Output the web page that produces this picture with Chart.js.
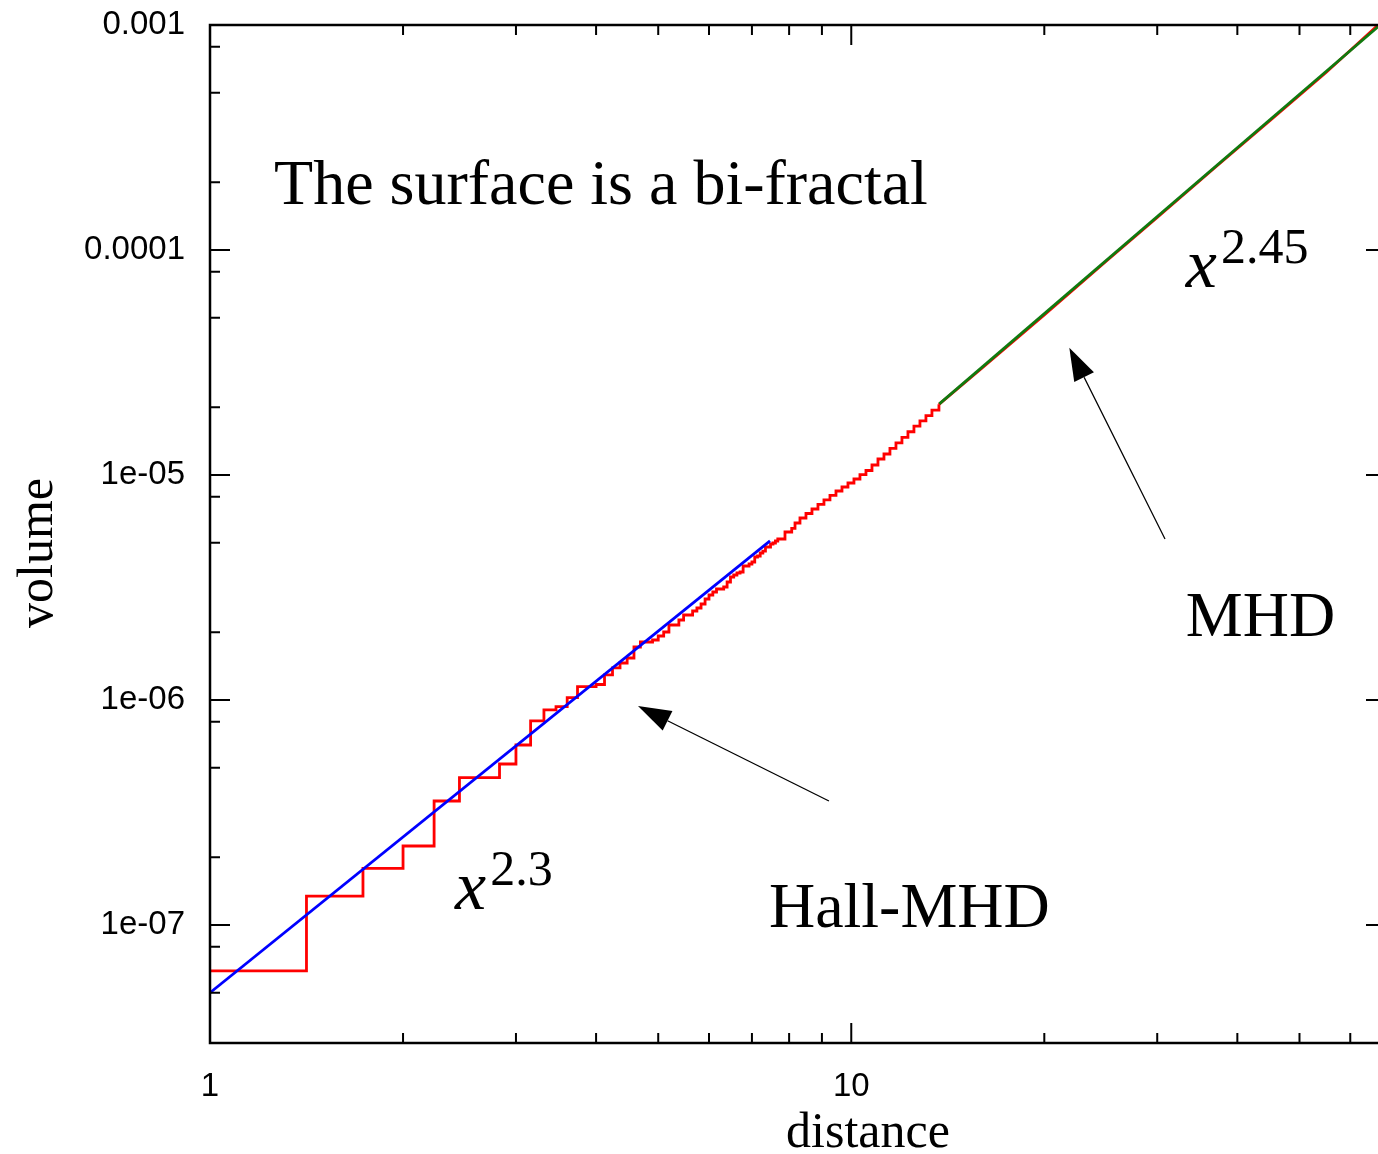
<!DOCTYPE html>
<html>
<head>
<meta charset="utf-8">
<script src="https://cdn.jsdelivr.net/npm/chart.js@4.4.1/dist/chart.umd.min.js"></script>
<style>
  html, body { margin: 0; padding: 0; background: #fff; overflow: hidden; }
  #wrap { width: 1382px; height: 1154px; }
</style>
</head>
<body>
<div id="wrap"><canvas id="c" width="1382" height="1154"></canvas></div>
<script>
// Cumulative volume vs. distance on the lattice (stepped part)
const distanceSteps = [
  1, 1.414, 1.732, 2, 2.236, 2.449, 2.828, 3, 3.162, 3.317, 3.464, 3.606, 3.742,
  4, 4.123, 4.243, 4.359, 4.472, 4.583, 4.690, 4.899, 5, 5.099, 5.196, 5.385, 5.477,
  5.657, 5.745, 5.831, 5.916, 6, 6.083, 6.164, 6.325, 6.403, 6.481, 6.557, 6.633,
  6.708, 6.782, 6.928, 7, 7.071, 7.141, 7.211, 7.280, 7.348, 7.483, 7.550, 7.616,
  7.681, 7.882, 8.075, 8.171, 8.318, 8.499, 8.684, 8.873, 9.066, 9.264, 9.466,
  9.672, 9.882, 10.097, 10.317, 10.542, 10.772, 11.006, 11.246, 11.490, 11.741,
  11.996, 12.257, 12.524, 12.797, 13.075, 13.360, 13.70
];
const volumeSteps = [
  6.25e-8, 1.345e-7, 1.786e-7, 2.244e-7, 3.557e-7, 4.515e-7, 5.195e-7, 6.31e-7, 8.07e-7,
  9.03e-7, 9.34e-7, 1.024e-6, 1.146e-6, 1.172e-6, 1.292e-6, 1.388e-6, 1.460e-6,
  1.537e-6, 1.720e-6, 1.810e-6, 1.848e-6, 1.925e-6, 2.005e-6, 2.154e-6, 2.268e-6,
  2.387e-6, 2.486e-6, 2.564e-6, 2.671e-6, 2.811e-6, 2.929e-6, 3.020e-6, 3.114e-6,
  3.179e-6, 3.345e-6, 3.521e-6, 3.594e-6, 3.668e-6, 3.706e-6, 3.940e-6, 4.021e-6,
  4.104e-6, 4.320e-6, 4.365e-6, 4.500e-6, 4.592e-6, 4.786e-6, 4.935e-6, 4.986e-6,
  5.090e-6, 5.195e-6, 5.581e-6, 5.796e-6, 6.119e-6, 6.440e-6, 6.744e-6, 7.062e-6,
  7.402e-6, 7.758e-6, 8.124e-6, 8.489e-6, 8.843e-6, 9.213e-6, 9.599e-6, 1.0031e-5,
  1.0471e-5, 1.1076e-5, 1.1776e-5, 1.2394e-5, 1.3138e-5, 1.3898e-5, 1.4703e-5,
  1.5569e-5, 1.6487e-5, 1.7405e-5, 1.8376e-5, 1.9409e-5, 2.0614e-5
];
// Large-distance part of the same curve
const distanceTail = [13.70, 16, 20, 25, 30, 37, 45, 55, 66.3];
const volumeTail = [2.0614e-5, 2.99e-5, 5.14e-5, 8.93e-5, 1.3945e-4, 2.338e-4, 3.763e-4, 6.149e-4, 1.0e-3];

// Power-law fits
const hallFitX = [1, 7.47];
const hallFitY = [5.0e-8, 5.1e-6];
const mhdFitX = [13.72, 66.3];
const mhdFitY = [2.07e-5, 9.82e-4];

// Axes
const xTickValues = [1, 10];
const xTickLabels = ['1', '10'];
const xMinorTicks = [2, 3, 4, 5, 6, 7, 8, 9, 20, 30, 40, 50, 60];
const yTickValues = [1e-7, 1e-6, 1e-5, 1e-4, 1e-3];
const yTickLabels = ['1e-07', '1e-06', '1e-05', '0.0001', '0.001'];
const yMinorTicks = [5e-8, 8e-8, 2e-7, 5e-7, 8e-7, 2e-6, 5e-6, 8e-6, 2e-5, 5e-5, 8e-5, 2e-4, 5e-4, 8e-4];

// Annotations (anchored in data coordinates)
const notes = [
  { text: 'The surface is a bi-fractal', x: 1.2585, y: 1.601e-4 },
  { text: 'MHD', x: 33.25, y: 1.925e-6 },
  { text: 'Hall-MHD', x: 7.44, y: 9.80e-8 }
];
const powerLabels = [
  { exp: '2.45', x: 33.25, y: 6.85e-5 },
  { exp: '2.3', x: 2.411, y: 1.178e-7 }
];
const arrows = [
  { from: [9.23, 3.556e-7], to: [4.65, 9.40e-7] },
  { from: [30.85, 5.195e-6], to: [21.88, 3.68e-5] }
];

const pts = (xs, ys) => xs.map((v, i) => ({ x: v, y: ys[i] }));
const SERIF = '"Liberation Serif", "Times New Roman", serif';
const SANS = '"Liberation Sans", Arial, sans-serif';

const frameAndTicks = {
  id: 'frameAndTicks',
  afterDatasetsDraw(chart) {
    const { ctx, chartArea: a, scales: { x, y } } = chart;
    ctx.save();
    ctx.strokeStyle = '#000';
    ctx.lineWidth = 2;
    ctx.beginPath();
    const seg = (x0, y0, x1, y1) => { ctx.moveTo(x0, y0); ctx.lineTo(x1, y1); };
    xTickValues.forEach(v => {
      const p = x.getPixelForValue(v);
      seg(p, a.bottom, p, a.bottom - 20);
      seg(p, a.top, p, a.top + 20);
    });
    xMinorTicks.forEach(v => {
      const p = x.getPixelForValue(v);
      if (p > a.right) return;
      seg(p, a.bottom, p, a.bottom - 10);
      seg(p, a.top, p, a.top + 10);
    });
    yTickValues.forEach(v => {
      const p = y.getPixelForValue(v);
      seg(a.left, p, a.left + 20, p);
      seg(a.right, p, a.right - 14, p);
    });
    yMinorTicks.forEach(v => {
      const p = y.getPixelForValue(v);
      seg(a.left, p, a.left + 10, p);
    });
    ctx.stroke();
    ctx.lineWidth = 2.5;
    ctx.strokeRect(a.left, a.top, a.right - a.left, a.bottom - a.top);
    ctx.restore();
  }
};

function drawArrow(ctx, x0, y0, x1, y1) {
  const ang = Math.atan2(y1 - y0, x1 - x0);
  const L = 33, W = 11;
  const bx = x1 - L * Math.cos(ang), by = y1 - L * Math.sin(ang);
  ctx.beginPath();
  ctx.lineWidth = 1.3;
  ctx.moveTo(x0, y0);
  ctx.lineTo(bx, by);
  ctx.stroke();
  ctx.beginPath();
  ctx.moveTo(x1, y1);
  ctx.lineTo(bx + W * Math.sin(ang), by - W * Math.cos(ang));
  ctx.lineTo(bx - W * Math.sin(ang), by + W * Math.cos(ang));
  ctx.closePath();
  ctx.fill();
}

const labelsPlugin = {
  id: 'labelsPlugin',
  afterDraw(chart) {
    const { ctx, chartArea: a, scales: { x, y } } = chart;
    ctx.save();
    ctx.fillStyle = '#000';
    ctx.strokeStyle = '#000';
    ctx.textBaseline = 'alphabetic';
    ctx.textAlign = 'left';

    ctx.font = '64px ' + SERIF;
    notes.forEach(n => ctx.fillText(n.text, x.getPixelForValue(n.x), y.getPixelForValue(n.y)));

    powerLabels.forEach(p => {
      const px = x.getPixelForValue(p.x), py = y.getPixelForValue(p.y);
      ctx.font = 'italic 70px ' + SERIF;
      ctx.fillText('x', px, py);
      const w = ctx.measureText('x').width;
      ctx.font = '50px ' + SERIF;
      ctx.fillText(p.exp, px + w + 4, py - 24);
    });

    arrows.forEach(ar => drawArrow(ctx,
      x.getPixelForValue(ar.from[0]), y.getPixelForValue(ar.from[1]),
      x.getPixelForValue(ar.to[0]), y.getPixelForValue(ar.to[1])));

    // Axis titles
    ctx.font = '50px ' + SERIF;
    ctx.textAlign = 'center';
    ctx.fillText('distance', x.getPixelForValue(10.62), a.bottom + 104);
    ctx.save();
    ctx.translate(52, y.getPixelForValue(4.5e-6));
    ctx.rotate(-Math.PI / 2);
    ctx.fillText('volume', 0, 0);
    ctx.restore();
    ctx.restore();
  }
};

new Chart(document.getElementById('c'), {
  type: 'line',
  data: {
    datasets: [
      { label: 'x^2.3', data: pts(hallFitX, hallFitY), borderColor: '#0000ff', borderWidth: 2.8, pointRadius: 0 },
      { label: 'x^2.45', data: pts(mhdFitX, mhdFitY), borderColor: '#0f7a0f', borderWidth: 2.8, pointRadius: 0 },
      { label: 'volume', data: pts(distanceSteps, volumeSteps), borderColor: '#ff0000', borderWidth: 2.8, pointRadius: 0, stepped: 'before' },
      { label: 'volume (tail)', data: pts(distanceTail, volumeTail), borderColor: '#ff0000', borderWidth: 2.8, pointRadius: 0 }
    ]
  },
  options: {
    responsive: false,
    animation: false,
    devicePixelRatio: 1,
    layout: { padding: { top: 25, right: 2, left: 0, bottom: 0 } },
    plugins: { legend: { display: false }, tooltip: { enabled: false } },
    scales: {
      x: {
        type: 'logarithmic',
        position: 'bottom',
        min: 1,
        max: 66.76,
        grid: { display: false, drawTicks: false },
        border: { display: false },
        ticks: {
          color: '#000',
          font: { family: SANS, size: 33 },
          padding: 24,
          autoSkip: false,
          maxRotation: 0,
          callback: (v, i) => xTickLabels[i]
        },
        afterBuildTicks: s => { s.ticks = xTickValues.map(v => ({ value: v })); },
        afterFit: s => { s.height = 111; s.paddingLeft = 0; s.paddingRight = 0; }
      },
      y: {
        type: 'logarithmic',
        position: 'left',
        min: 2.989e-8,
        max: 1e-3,
        grid: { display: false, drawTicks: false },
        border: { display: false },
        ticks: {
          color: '#000',
          font: { family: SANS, size: 33 },
          padding: 25,
          autoSkip: false,
          callback: (v, i) => yTickLabels[i]
        },
        afterBuildTicks: s => { s.ticks = yTickValues.map(v => ({ value: v })); },
        afterFit: s => { s.width = 210; s.paddingTop = 0; s.paddingBottom = 0; }
      }
    }
  },
  plugins: [frameAndTicks, labelsPlugin]
});
</script>
</body>
</html>
